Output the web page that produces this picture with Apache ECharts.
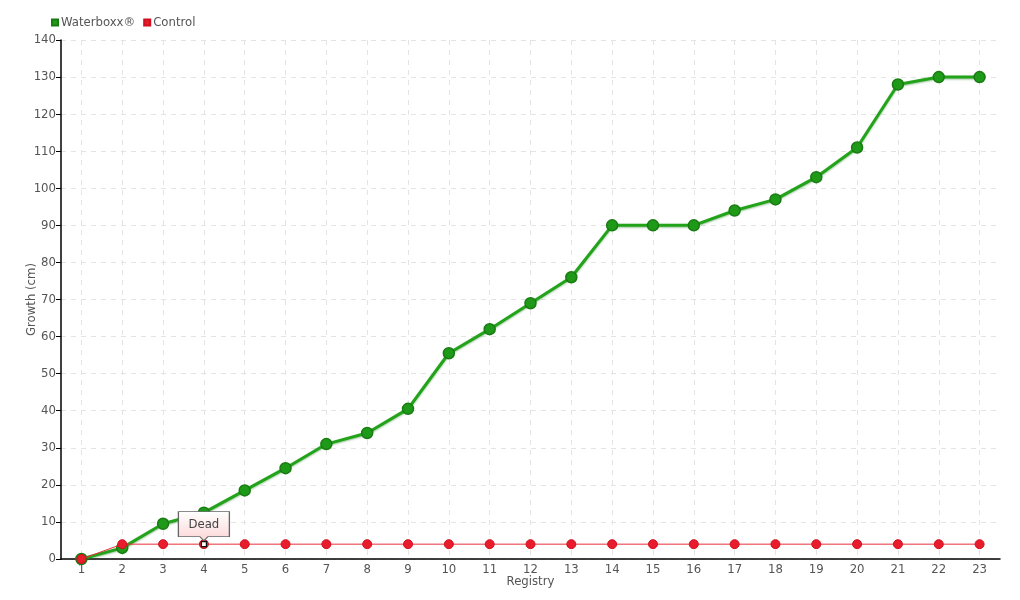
<!DOCTYPE html>
<html><head><meta charset="utf-8">
<script src="https://cdn.jsdelivr.net/npm/echarts@6/dist/echarts.min.js"></script>
<style>html,body{margin:0;padding:0;background:#fff}#c{width:1020px;height:600px}</style>
</head><body><div id="c"></div>
<script>
const categories = ['1','2','3','4','5','6','7','8','9','10','11','12','13','14','15','16','17','18','19','20','21','22','23'];
const waterboxx = [0,3,9.5,12.5,18.5,24.5,31,34,40.5,55.5,62,69,76,90,90,90,94,97,103,111,128,130,130];
const control = [0,4,4,4,4,4,4,4,4,4,4,4,4,4,4,4,4,4,4,4,4,4,4];
const yTicks = [0,10,20,30,40,50,60,70,80,90,100,110,120,130,140];
const deadIndex = 3;

const FONT = "'DejaVu Sans Condensed', 'Liberation Sans Narrow', sans-serif";
const chart = echarts.init(document.getElementById('c'));

chart.setOption({
  animation: false,
  textStyle: {fontFamily: FONT},
  legend: {
    left: 46, top: 11, itemWidth: 6, itemHeight: 6, itemGap: 8,
    icon: 'rect',
    textStyle: {color: '#555', fontSize: 13, fontFamily: FONT, padding: [0,0,0,-2]},
    data: ['Waterboxx®', 'Control']
  },
  grid: {left: 61, right: 20, top: 40, bottom: 41, outerBoundsMode: 'none', containLabel: false},
  xAxis: {
    type: 'category', data: categories, boundaryGap: true,
    name: 'Registry', nameLocation: 'middle', nameGap: 16, nameMoveOverlap: false,
    nameTextStyle: {color: '#555', fontSize: 13, fontFamily: FONT},
    axisLine: {lineStyle: {color: '#000', width: 1.5}},
    axisTick: {alignWithLabel: true, length: 5, lineStyle: {color: '#000'}},
    axisLabel: {color: '#555', fontSize: 13, margin: 4, fontFamily: FONT},
    splitLine: {show: true, alignWithLabel: true, lineStyle: {color: '#e4e4e4', type: [5, 5]}}
  },
  yAxis: {
    type: 'value', min: yTicks[0], max: yTicks[yTicks.length-1], interval: 10,
    name: 'Growth (cm)', nameLocation: 'middle', nameGap: 23, nameMoveOverlap: false,
    nameTextStyle: {color: '#555', fontSize: 13, fontFamily: FONT},
    axisLine: {show: true, lineStyle: {color: '#000', width: 1.5}},
    axisTick: {show: true, length: 5, lineStyle: {color: '#000'}},
    axisLabel: {color: '#555', fontSize: 13, margin: 5, fontFamily: FONT},
    splitLine: {show: true, lineStyle: {color: '#e4e4e4', type: [5, 5]}}
  },
  series: [
    {
      name: 'Waterboxx®', type: 'line', data: waterboxx,
      symbol: 'circle', symbolSize: 11, z: 3,
      lineStyle: {color: '#22a31a', width: 3, shadowColor: 'rgba(0,110,0,0.4)', shadowBlur: 2, shadowOffsetY: 1},
      itemStyle: {color: '#1f9a18', borderColor: '#197c13', borderWidth: 1.5}
    },
    {
      name: 'Control', type: 'line', data: control,
      symbol: 'circle', symbolSize: 9, z: 4,
      lineStyle: {color: '#e8303c', width: 1},
      itemStyle: {color: '#e81c2c', borderColor: '#d0101e', borderWidth: 1},
      markPoint: {
        data: [
          {
            coord: [categories[deadIndex], control[deadIndex]], value: 'Dead',
            symbol: 'path://M0,0 H50 V24 H29 L25,28 L21,24 H0 Z',
            symbolSize: [51, 29], symbolOffset: [0, -18], symbolKeepAspect: false,
            itemStyle: {
              color: new echarts.graphic.LinearGradient(0, 0, 0, 1, [{offset: 0, color: '#ffffff'}, {offset: 1, color: '#fcd6d6'}]),
              borderColor: '#666', borderWidth: 1
            },
            label: {show: true, formatter: 'Dead', color: '#444', fontSize: 13, fontFamily: FONT, offset: [0, -2]}
          },
          {
            coord: [categories[deadIndex], control[deadIndex]], value: '',
            symbol: 'rect', symbolSize: 5,
            itemStyle: {color: '#fff', borderColor: '#111', borderWidth: 1.2},
            label: {show: false}
          }
        ]
      }
    }
  ]
});
</script></body></html>
